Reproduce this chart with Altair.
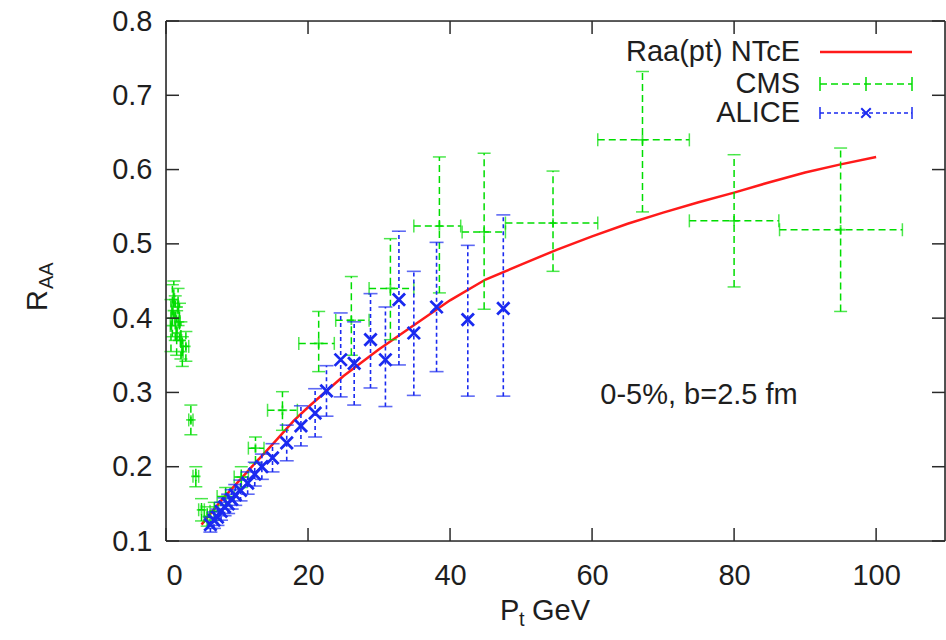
import altair as alt
import pandas as pd

FONT = "Liberation Sans"
TXT = "#1e1e1e"
RED = "#ff1a1a"
GREEN = "#00dd00"
BLUE = "#1a2af0"
AXC = "#2a2a2a"
W, H = 779, 520

# ---------------- data ----------------
curve_pt = [5, 8, 10, 12, 15, 18, 20, 25, 30, 35, 40, 45, 50, 55, 60, 65, 70, 75, 80, 85, 90, 95, 100]
curve_raa = [0.122, 0.157, 0.178, 0.199, 0.230, 0.262, 0.280, 0.322, 0.358, 0.391, 0.424, 0.452,
             0.472, 0.492, 0.510, 0.527, 0.542, 0.556, 0.569, 0.583, 0.596, 0.607, 0.617]

cms_pt = [0.7, 0.9, 1.1, 1.3, 1.5, 1.7, 1.9, 2.1, 2.3, 2.8, 3.5, 4.2, 5.0, 5.8, 6.8, 8.4, 10.6, 12.6,
          16.4, 21.5, 26.1, 31.6, 38.5, 44.8, 54.5, 67.1, 80.0, 95.0]
cms_pt_lo = [0.6, 0.8, 1.0, 1.2, 1.4, 1.6, 1.8, 2.0, 2.2, 2.4, 3.2, 3.8, 4.6, 5.4, 6.2, 7.2, 9.6, 11.6,
             14.3, 18.7, 23.9, 28.6, 34.9, 41.7, 47.8, 60.8, 73.7, 86.4]
cms_pt_hi = [0.8, 1.0, 1.2, 1.4, 1.6, 1.8, 2.0, 2.2, 2.4, 3.2, 3.8, 4.6, 5.4, 6.2, 7.4, 9.6, 11.6, 13.8,
             18.5, 23.7, 28.6, 34.9, 41.5, 47.8, 60.8, 73.7, 86.3, 103.7]
cms_raa = [0.39, 0.41, 0.425, 0.40, 0.38, 0.415, 0.395, 0.37, 0.355, 0.362, 0.263, 0.187, 0.142, 0.133,
           0.14, 0.16, 0.186, 0.225, 0.276, 0.366, 0.397, 0.44, 0.524, 0.516, 0.528, 0.640, 0.531, 0.519]
cms_raa_lo = [0.355, 0.375, 0.40, 0.37, 0.35, 0.39, 0.37, 0.345, 0.335, 0.342, 0.243, 0.173, 0.127, 0.12,
              0.128, 0.148, 0.172, 0.205, 0.249, 0.328, 0.35, 0.371, 0.434, 0.412, 0.463, 0.543, 0.442, 0.409]
cms_raa_hi = [0.425, 0.445, 0.45, 0.43, 0.41, 0.44, 0.42, 0.395, 0.375, 0.382, 0.283, 0.200, 0.157, 0.146,
              0.152, 0.172, 0.2, 0.24, 0.301, 0.409, 0.456, 0.507, 0.617, 0.622, 0.598, 0.732, 0.620, 0.629]

alice_pt = [6.25, 6.75, 7.25, 7.75, 8.25, 8.75, 9.25, 9.75, 10.5, 11.5, 12.5, 13.5, 15.0, 17.0, 19.0, 21.0,
            22.6, 24.6, 26.5, 28.8, 30.9, 32.8, 34.9, 38.1, 42.5, 47.5]
alice_raa = [0.122, 0.128, 0.132, 0.140, 0.146, 0.150, 0.156, 0.162, 0.168, 0.178, 0.19, 0.2, 0.212, 0.232,
             0.255, 0.272, 0.302, 0.344, 0.339, 0.371, 0.344, 0.425, 0.380, 0.415, 0.398, 0.413]
alice_raa_lo = [0.112, 0.117, 0.121, 0.128, 0.134, 0.137, 0.143, 0.148, 0.154, 0.163, 0.174, 0.183, 0.193,
                0.208, 0.228, 0.240, 0.268, 0.294, 0.283, 0.306, 0.281, 0.337, 0.296, 0.328, 0.295, 0.295]
alice_raa_hi = [0.132, 0.139, 0.143, 0.152, 0.158, 0.163, 0.169, 0.176, 0.182, 0.193, 0.206, 0.217, 0.231,
                0.256, 0.282, 0.305, 0.336, 0.407, 0.395, 0.433, 0.415, 0.517, 0.463, 0.502, 0.498, 0.539]

x_ticks = [0, 20, 40, 60, 80, 100]
y_ticks = [0.1, 0.2, 0.3, 0.4, 0.5, 0.6, 0.7, 0.8]

# ---------------- tables ----------------
curve = pd.DataFrame({"pt": curve_pt, "raa": curve_raa})
cms = pd.DataFrame({"pt": cms_pt, "plo": cms_pt_lo, "phi": cms_pt_hi,
                    "raa": cms_raa, "lo": cms_raa_lo, "hi": cms_raa_hi})
alice = pd.DataFrame({"pt": alice_pt, "raa": alice_raa, "lo": alice_raa_lo, "hi": alice_raa_hi})
xt = pd.DataFrame({"v": x_ticks})
yt = pd.DataFrame({"v": y_ticks})
one = pd.DataFrame({"k": [0]})

xs = alt.Scale(domain=[0, 109.7], nice=False, zero=False)
ys = alt.Scale(domain=[0.1, 0.8], nice=False, zero=False)

XA = alt.Axis(values=x_ticks, title=None, ticks=False, domain=False, grid=False, labelFontSize=29,
              labelFont=FONT, labelColor=TXT, labelPadding=20, format="d")
YA = alt.Axis(values=y_ticks, title=None, ticks=False, domain=False, grid=False, labelFontSize=29,
              labelFont=FONT, labelColor=TXT, labelPadding=14, format=".1f")


def X(f):
    return alt.X(f, type="quantitative", scale=xs, axis=XA)


def Y(f):
    return alt.Y(f, type="quantitative", scale=ys, axis=YA)


curve_layer = alt.Chart(curve).mark_line(color=RED, strokeWidth=2.5).encode(x=X("pt"), y=Y("raa"))

GD = [7, 4]
BD = [4, 3]

cms_y = alt.Chart(cms).mark_rule(color=GREEN, strokeWidth=1.5, strokeDash=GD).encode(
    x=X("pt"), y=Y("lo"), y2="hi")
cms_x = alt.Chart(cms).mark_rule(color=GREEN, strokeWidth=1.5, strokeDash=GD).encode(
    x=X("plo"), x2="phi", y=Y("raa"))
cms_cap_lo = alt.Chart(cms).mark_tick(color=GREEN, orient="horizontal", size=13, thickness=1.5).encode(
    x=X("pt"), y=Y("lo"))
cms_cap_hi = alt.Chart(cms).mark_tick(color=GREEN, orient="horizontal", size=13, thickness=1.5).encode(
    x=X("pt"), y=Y("hi"))
cms_cap_l = alt.Chart(cms).mark_tick(color=GREEN, orient="vertical", size=13, thickness=1.5).encode(
    x=X("plo"), y=Y("raa"))
cms_cap_r = alt.Chart(cms).mark_tick(color=GREEN, orient="vertical", size=13, thickness=1.5).encode(
    x=X("phi"), y=Y("raa"))
cms_pts = alt.Chart(cms).mark_point(shape="M-1,0L1,0M0,-1L0,1", size=90, filled=False,
                                    color=GREEN, strokeWidth=1.8).encode(x=X("pt"), y=Y("raa"))

al_y = alt.Chart(alice).mark_rule(color=BLUE, strokeWidth=1.6, strokeDash=BD).encode(
    x=X("pt"), y=Y("lo"), y2="hi")
al_cap_lo = alt.Chart(alice).mark_tick(color=BLUE, orient="horizontal", size=14, thickness=1.6).encode(
    x=X("pt"), y=Y("lo"))
al_cap_hi = alt.Chart(alice).mark_tick(color=BLUE, orient="horizontal", size=14, thickness=1.6).encode(
    x=X("pt"), y=Y("hi"))
al_pts = alt.Chart(alice).mark_point(shape="M-1,-1L1,1M-1,1L1,-1", size=150, filled=False,
                                     color=BLUE, strokeWidth=2.8, opacity=1).encode(x=X("pt"), y=Y("raa"))

# inward border ticks
TL = 13
t_bottom = alt.Chart(xt).mark_rule(color=AXC, strokeWidth=1.5).encode(x=X("v"), y=alt.value(H), y2=alt.value(H - TL))
t_top = alt.Chart(xt).mark_rule(color=AXC, strokeWidth=1.5).encode(x=X("v"), y=alt.value(0), y2=alt.value(TL))
t_left = alt.Chart(yt).mark_rule(color=AXC, strokeWidth=1.5).encode(y=Y("v"), x=alt.value(0), x2=alt.value(TL))
t_right = alt.Chart(yt).mark_rule(color=AXC, strokeWidth=1.5).encode(y=Y("v"), x=alt.value(W), x2=alt.value(W - TL))


def txt(s, x, y, size=29, align="right", baseline="middle", angle=0):
    m = alt.Chart(one).mark_text(text=s, align=align, baseline=baseline, fontSize=size,
                                 font=FONT, color=TXT, angle=angle)
    return m.encode(x=alt.value(x), y=alt.value(y))


def rule(x1, x2, y1, y2, color, width=1.5, dash=None):
    kw = dict(color=color, strokeWidth=width)
    if dash:
        kw["strokeDash"] = dash
    return alt.Chart(one).mark_rule(**kw).encode(
        x=alt.value(x1), x2=alt.value(x2), y=alt.value(y1), y2=alt.value(y2))


# plot frame
frame = [
    rule(0, W, 0, 0, AXC, 1.6),
    rule(0, W, H, H, AXC, 1.6),
    rule(0, 0, 0, H, AXC, 1.6),
    rule(W, W, 0, H, AXC, 1.6),
]

# legend
LX1, LX2, LXM = 654, 746, 700
R1, R2, R3 = 31, 63, 92
legend = [
    txt("Raa(pt) NTcE", 634, R1),
    txt("CMS", 634, R2),
    txt("ALICE", 634, R3),
    rule(LX1, LX2, R1, R1, RED, 2.5),
    rule(LX1, LX2, R2, R2, GREEN, 1.5, GD),
    rule(LX1, LX1, R2 - 7, R2 + 7, GREEN),
    rule(LX2, LX2, R2 - 7, R2 + 7, GREEN),
    rule(LXM, LXM, R2 - 7, R2 + 7, GREEN),
    rule(LX1, LX2, R3, R3, BLUE, 1.5, BD),
    rule(LX1, LX1, R3 - 6, R3 + 6, BLUE),
    rule(LX2, LX2, R3 - 6, R3 + 6, BLUE),
    alt.Chart(one).mark_point(shape="M-1,-1L1,1M-1,1L1,-1", size=90, filled=False, color=BLUE,
                              strokeWidth=2, opacity=1).encode(x=alt.value(LXM), y=alt.value(R3)),
]

# annotation and axis titles
annot = txt("0-5%, b=2.5 fm", 533, 374, align="center")
xtitle = [
    txt("P", 334, 599, align="left", baseline="alphabetic"),
    txt("t", 353, 605, size=20, align="left", baseline="alphabetic"),
    txt("GeV", 366, 599, align="left", baseline="alphabetic"),
]
ytitle = [
    txt("R", -119, 290, align="left", baseline="alphabetic", angle=270),
    txt("AA", -113, 268, size=20, align="left", baseline="alphabetic", angle=270),
]

chart = alt.layer(
    curve_layer,
    cms_y, cms_x, cms_cap_lo, cms_cap_hi, cms_cap_l, cms_cap_r, cms_pts,
    al_y, al_cap_lo, al_cap_hi, al_pts,
    t_bottom, t_top, t_left, t_right, *frame,
    *legend, annot, *xtitle, *ytitle,
).properties(
    width=W, height=H,
    padding={"left": 166, "top": 21, "right": 1, "bottom": 99},
    autosize="none",
).configure_view(stroke=None).configure(background="white")

chart.save("out.html", embed_options={"renderer": "svg", "actions": False})
